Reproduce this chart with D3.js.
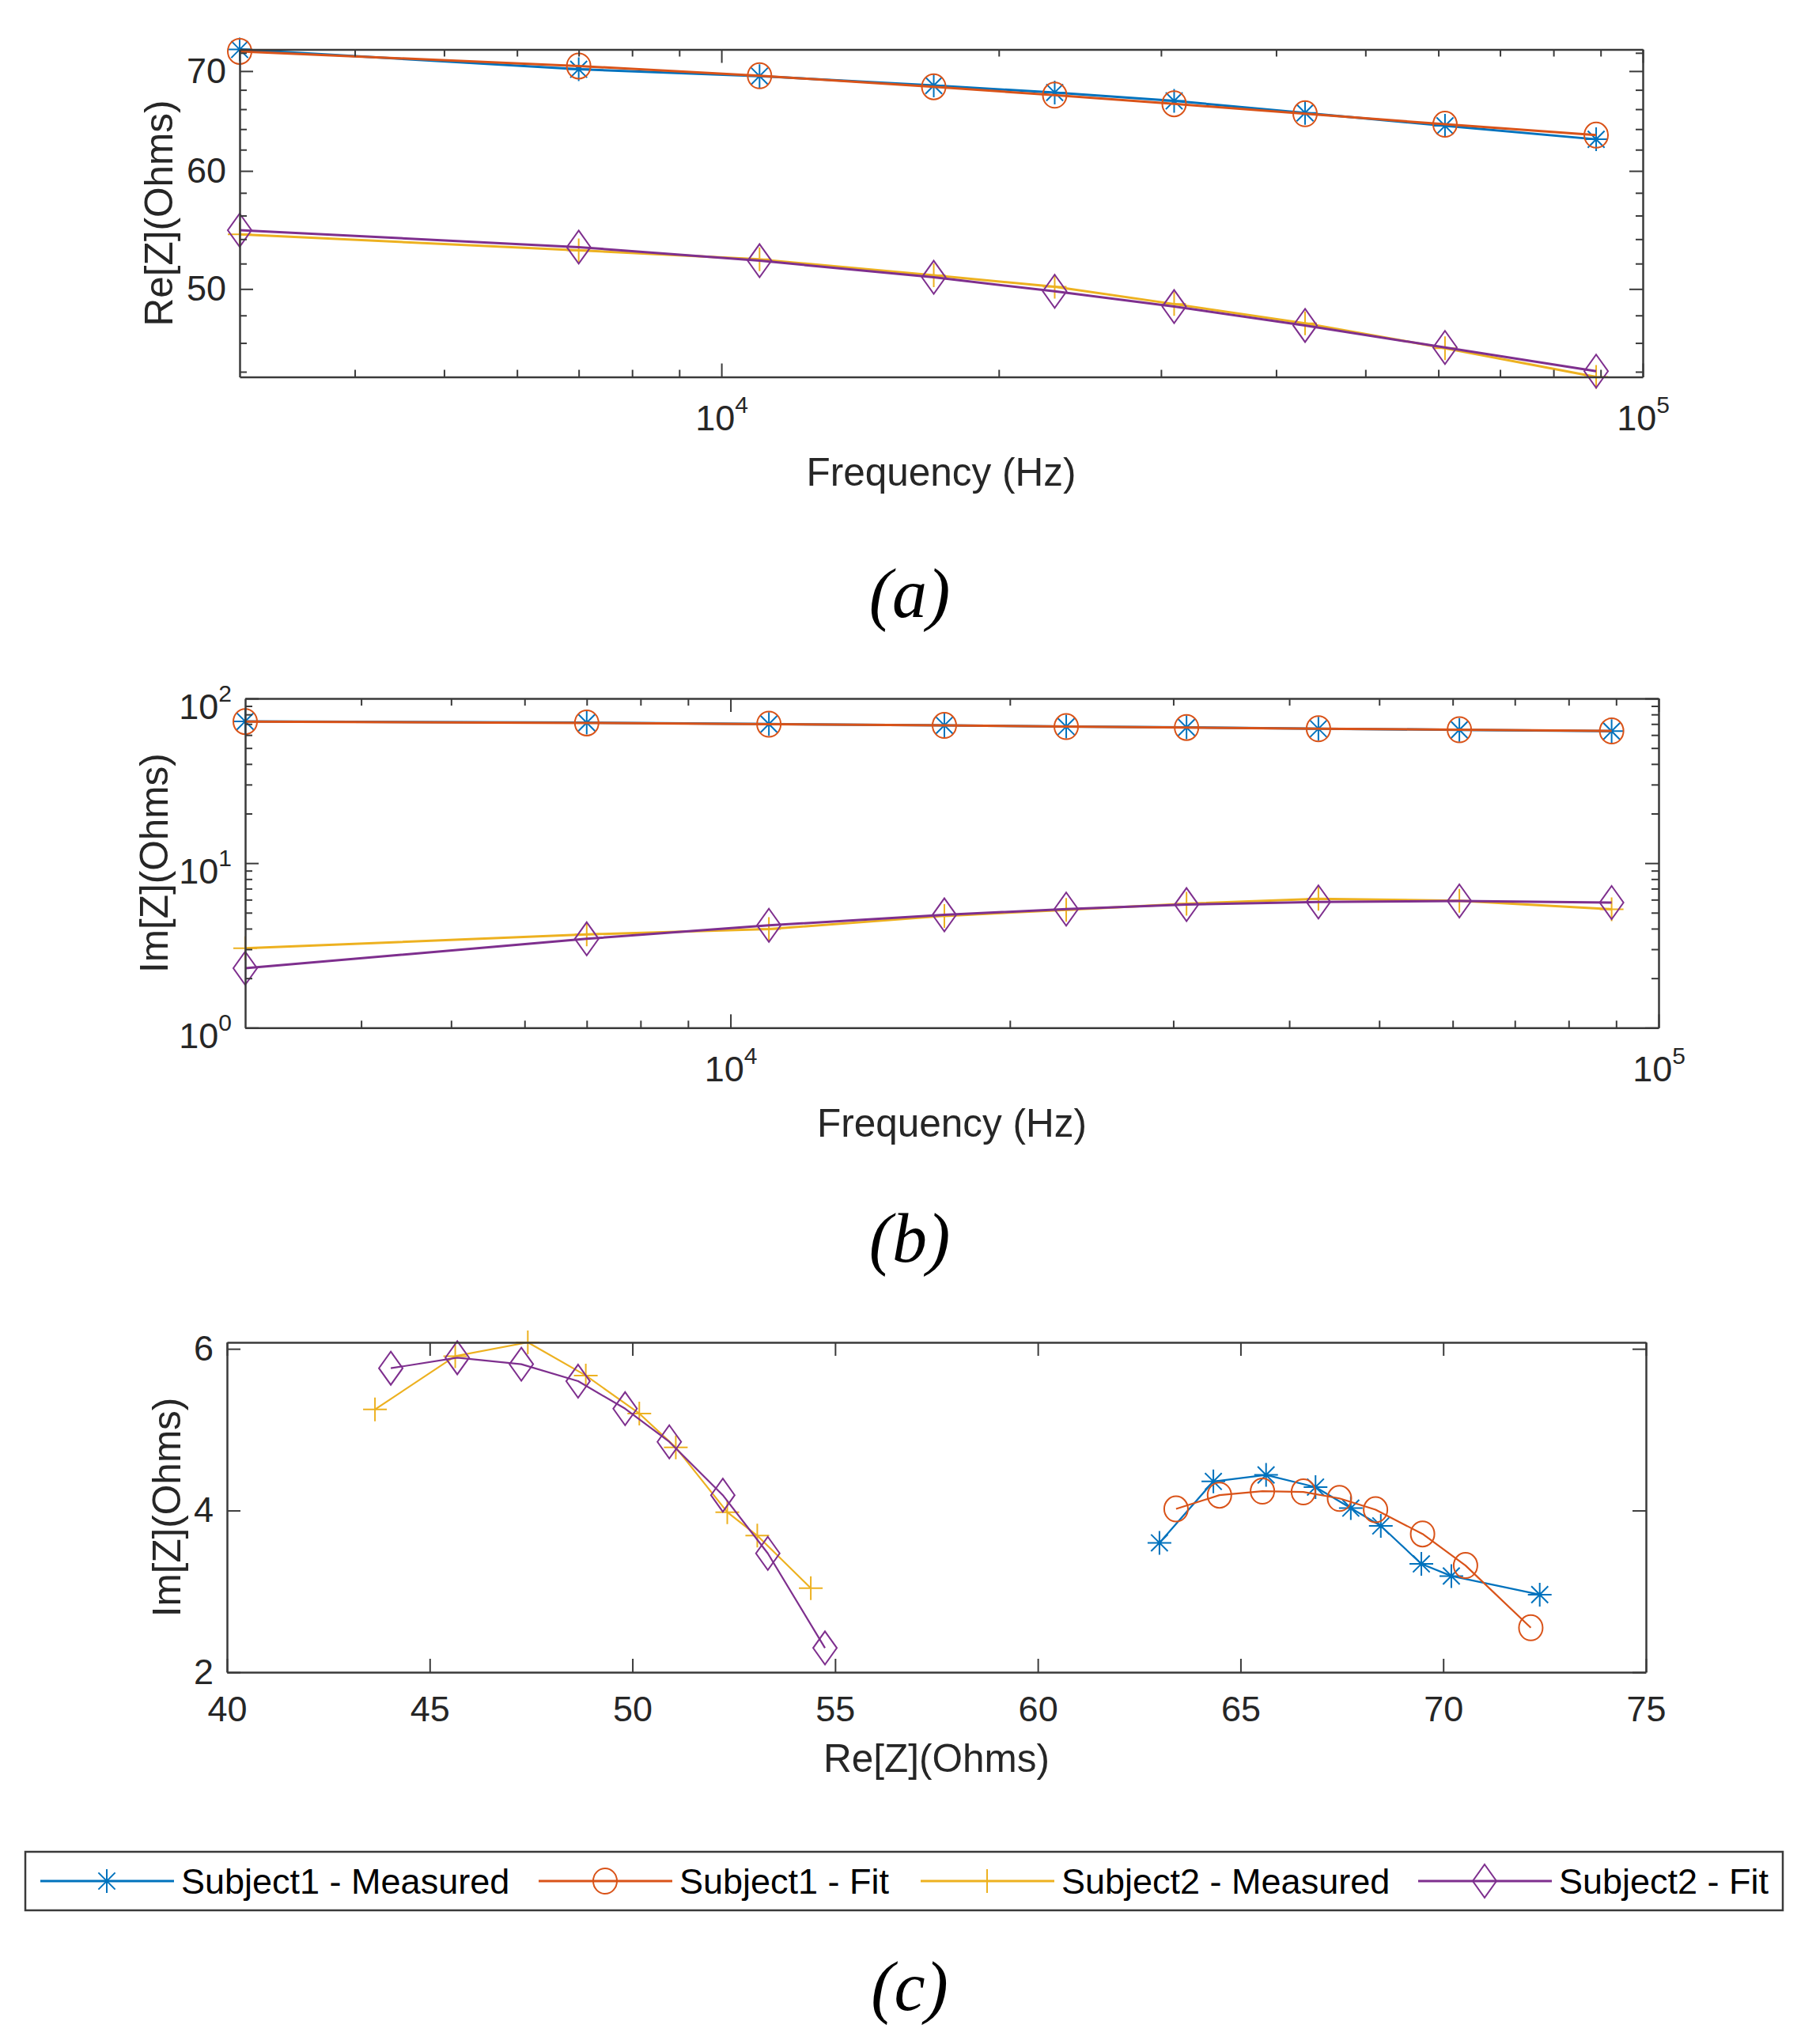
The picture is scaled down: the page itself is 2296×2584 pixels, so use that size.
<!DOCTYPE html>
<html><head><meta charset="utf-8">
<script src="https://cdn.jsdelivr.net/npm/d3@7"></script>
<style>
body{margin:0;background:#fff}
svg{display:block}
</style>
</head><body><svg id="chart" width="2296" height="2584"></svg>
<script>
// ---------------- DATA ----------------
const freqHz = [3000, 7000, 11000, 17000, 23000, 31000, 43000, 61000, 89000];
// Re[Z] (Ohms) per frequency
const s1MeasRe = [72.38, 70.20, 69.46, 68.46, 67.72, 66.85, 65.63, 64.33, 63.00];
const s1FitRe  = [72.16, 70.55, 69.49, 68.33, 67.44, 66.55, 65.54, 64.48, 63.41];
const s2MeasRe = [54.40, 53.08, 52.34, 51.07, 50.17, 48.85, 47.42, 45.63, 43.65];
const s2FitRe  = [54.75, 53.34, 52.23, 50.91, 49.82, 48.66, 47.26, 45.68, 44.04];
// Im[Z] (Ohms) per frequency
const s1MeasIm = [2.96, 3.19, 3.34, 3.81, 4.03, 4.29, 4.44, 4.36, 3.60];
const s1FitIm  = [2.55, 3.32, 3.71, 4.01, 4.15, 4.23, 4.24, 4.19, 4.02];
const s2MeasIm = [3.04, 3.69, 3.98, 4.78, 5.20, 5.67, 6.08, 5.91, 5.25];
const s2FitIm  = [2.30, 3.47, 4.19, 4.85, 5.26, 5.60, 5.81, 5.89, 5.76];
// Subject1 curve as drawn in panel (b)
const s1MeasPanelB = [72.6, 71.3, 69.9, 68.7, 67.5, 66.7, 65.5, 64.5, 63.3];
const s1FitPanelB  = [72.4, 71.0, 69.8, 68.6, 67.5, 66.6, 65.5, 64.6, 63.5];

const seriesNames = ["Subject1 - Measured", "Subject1 - Fit", "Subject2 - Measured", "Subject2 - Fit"];
const subLabels = ["(a)", "(b)", "(c)"];
const axisTitles = {a: ["Frequency (Hz)", "Re[Z](Ohms)"], b: ["Frequency (Hz)", "Im[Z](Ohms)"], c: ["Re[Z](Ohms)", "Im[Z](Ohms)"]};

// tick values
const freqMajorTicks = [1e4, 1e5];
const freqMinorTicks = [4000, 5000, 6000, 7000, 8000, 9000, 20000, 30000, 40000, 50000, 60000, 70000, 80000, 90000];
const reMajorTicksA = [50, 60, 70];
const reMinorTicksA = [44, 46, 48, 52, 54, 56, 58, 62, 64, 66, 68, 72];
const imMajorTicksB = [1, 10, 100];
const imMinorTicksB = [2, 3, 4, 5, 6, 7, 8, 9, 20, 30, 40, 50, 60, 70, 80, 90];
const reTicksC = [40, 45, 50, 55, 60, 65, 70, 75];
const imTicksC = [2, 4, 6];

// ---------------- STYLE ----------------
const colors = ['#0072BD', '#D95319', '#EDB120', '#7E2F8E'];
const markerTypes = ['star', 'circle', 'plus', 'diamond'];
const FONT = '"Liberation Sans", Arial, Helvetica, sans-serif';
const TXT = '#262626';
const AX = '#3a3a3a';
const TICK_FS = 45, LABEL_FS = 49.5, SUP_FS = 30, LEG_FS = 45;

function markerPath(t) {
  const r = 15, a = 10.6;
  switch (t) {
    case 'star': return `M0,${-r}V${r}M${-r},0H${r}M${-a},${-a}L${a},${a}M${-a},${a}L${a},${-a}`;
    case 'circle': return `M-15,0A15,16 0 1,0 15,0A15,16 0 1,0 -15,0Z`;
    case 'plus': return `M0,${-r}V${r}M${-r},0H${r}`;
    case 'diamond': return `M0,-21L15,0L0,21L-15,0Z`;
  }
}

const svg = d3.select('#chart');
svg.append('rect').attr('width', 2296).attr('height', 2584).attr('fill', '#fff');

function supFormat(sel) {
  sel.each(function(d) {
    const t = d3.select(this);
    const e = Math.round(Math.log10(d));
    t.text(null);
    t.append('tspan').text('10');
    t.append('tspan').attr('font-size', SUP_FS).attr('dy', -22).text(e);
  });
}

function styleAxis(g) {
  g.attr('color', AX).attr('font-family', FONT).attr('font-size', TICK_FS);
  g.selectAll('.domain').attr('stroke-width', 2.5);
  g.selectAll('.tick line').attr('stroke-width', 2);
  g.selectAll('.tick text').attr('fill', TXT);
}

function drawPanel(p) {
  const g = svg.append('g');
  const x = p.x, y = p.y;
  const [x0, x1] = x.range(), [y0, y1] = y.range(); // y0 bottom, y1 top
  // series
  p.series.forEach((s, i) => {
    const pts = d3.zip(s[0], s[1]);
    g.append('path').datum(pts)
      .attr('d', d3.line().x(d => x(d[0])).y(d => y(d[1])))
      .attr('fill', 'none').attr('stroke', colors[i]).attr('stroke-width', p.lw)
      .attr('stroke-linejoin', 'round');
    g.selectAll(null).data(pts).join('path')
      .attr('transform', d => `translate(${x(d[0])},${y(d[1])})`)
      .attr('d', markerPath(markerTypes[i]))
      .attr('fill', 'none').attr('stroke', colors[i]).attr('stroke-width', 2);
  });
  const ax = svg.append('g');
  // minor ticks
  if (p.xMinor) {
    ax.append('g').attr('transform', `translate(0,${y0})`)
      .call(d3.axisBottom(x).tickValues(p.xMinor).tickSize(-9).tickFormat(''))
      .call(styleAxis).call(s => s.select('.domain').remove());
    ax.append('g').attr('transform', `translate(0,${y1})`)
      .call(d3.axisTop(x).tickValues(p.xMinor).tickSize(-9).tickFormat(''))
      .call(styleAxis).call(s => s.select('.domain').remove());
  }
  if (p.yMinor) {
    ax.append('g').attr('transform', `translate(${x0},0)`)
      .call(d3.axisLeft(y).tickValues(p.yMinor).tickSize(-9).tickFormat(''))
      .call(styleAxis).call(s => s.select('.domain').remove());
    ax.append('g').attr('transform', `translate(${x1},0)`)
      .call(d3.axisRight(y).tickValues(p.yMinor).tickSize(-9).tickFormat(''))
      .call(styleAxis).call(s => s.select('.domain').remove());
  }
  // major axes
  const bx = ax.append('g').attr('transform', `translate(0,${y0})`)
    .call(d3.axisBottom(x).tickValues(p.xMajor).tickSize(-17).tickSizeOuter(0).tickPadding(p.xPad).tickFormat(p.xSup ? d => d : d3.format('d')))
    .call(styleAxis);
  if (p.xSup) bx.selectAll('.tick text').call(supFormat);
  ax.append('g').attr('transform', `translate(0,${y1})`)
    .call(d3.axisTop(x).tickValues(p.xMajor).tickSize(-17).tickSizeOuter(0).tickFormat(''))
    .call(styleAxis);
  const ly = ax.append('g').attr('transform', `translate(${x0},0)`)
    .call(d3.axisLeft(y).tickValues(p.yMajor).tickSize(-17).tickSizeOuter(0).tickPadding(17).tickFormat(p.ySup ? d => d : d3.format('d')))
    .call(styleAxis);
  if (p.ySup) ly.selectAll('.tick text').attr('dy', '0.56em').call(supFormat);
  ax.append('g').attr('transform', `translate(${x1},0)`)
    .call(d3.axisRight(y).tickValues(p.yMajor).tickSize(-17).tickSizeOuter(0).tickFormat(''))
    .call(styleAxis);
  // axis titles
  svg.append('text').attr('x', (x0 + x1) / 2).attr('y', p.xTitleY)
    .attr('text-anchor', 'middle').attr('font-family', FONT).attr('font-size', LABEL_FS).attr('fill', TXT)
    .text(p.titles[0]);
  svg.append('text').attr('transform', `translate(${p.yTitleX},${(y0 + y1) / 2}) rotate(-90)`)
    .attr('text-anchor', 'middle').attr('dy', '0.36em').attr('font-family', FONT).attr('font-size', LABEL_FS).attr('fill', TXT)
    .text(p.titles[1]);
  // sub-figure label
  svg.append('text').attr('x', 1150).attr('y', p.subY)
    .attr('text-anchor', 'middle').attr('font-family', '"Liberation Serif", "Times New Roman", serif')
    .attr('font-style', 'italic').attr('font-size', 88).attr('fill', '#000')
    .text(p.sub);
}

// ---------- Panel (a): Re[Z] vs frequency ----------
const allReA = [].concat(s1MeasRe, s1FitRe, s2MeasRe, s2FitRe);
drawPanel({
  x: d3.scaleLog().domain([3000, 1e5]).range([303, 2077]),
  y: d3.scaleLog().domain(d3.extent(allReA)).range([476.5, 62.5]),
  series: [[freqHz, s1MeasRe], [freqHz, s1FitRe], [freqHz, s2MeasRe], [freqHz, s2FitRe]],
  lw: 3,
  xMajor: freqMajorTicks, xMinor: freqMinorTicks, xSup: true, xPad: 36,
  yMajor: reMajorTicksA, yMinor: reMinorTicksA, ySup: false,
  titles: axisTitles.a, xTitleY: 614, yTitleX: 200,
  sub: subLabels[0], subY: 780
});

// ---------- Panel (b): Im[Z] vs frequency ----------
drawPanel({
  x: d3.scaleLog().domain([3000, 1e5]).range([310, 2097]),
  y: d3.scaleLog().domain([1, 100]).range([1299.3, 883]),
  series: [[freqHz, s1MeasPanelB], [freqHz, s1FitPanelB], [freqHz, s2MeasIm], [freqHz, s2FitIm]],
  lw: 3,
  xMajor: freqMajorTicks, xMinor: freqMinorTicks, xSup: true, xPad: 36,
  yMajor: imMajorTicksB, yMinor: imMinorTicksB, ySup: true,
  titles: axisTitles.b, xTitleY: 1437, yTitleX: 194,
  sub: subLabels[1], subY: 1595
});

// ---------- Panel (c): Nyquist ----------
const allImC = [].concat(s1MeasIm, s1FitIm, s2MeasIm, s2FitIm);
drawPanel({
  x: d3.scaleLinear().domain([40, 75]).range([287, 2081]),
  y: d3.scaleLinear().domain([2, d3.max(allImC)]).range([2114, 1697]),
  series: [[s1MeasRe, s1MeasIm], [s1FitRe, s1FitIm], [s2MeasRe, s2MeasIm], [s2FitRe, s2FitIm]],
  lw: 2.2,
  xMajor: reTicksC, xMinor: null, xSup: false, xPad: 30,
  yMajor: imTicksC, yMinor: null, ySup: false,
  titles: axisTitles.c, xTitleY: 2240, yTitleX: 210,
  sub: subLabels[2], subY: 2541
});

// ---------- Legend ----------
const leg = svg.append('g');
leg.append('rect').attr('x', 32).attr('y', 2341).attr('width', 2222).attr('height', 74)
  .attr('fill', '#fff').attr('stroke', AX).attr('stroke-width', 2.5);
const legX = [51, 681, 1164, 1793];
seriesNames.forEach((name, i) => {
  const lx = legX[i], cy = 2378;
  leg.append('line').attr('x1', lx).attr('x2', lx + 169).attr('y1', cy).attr('y2', cy)
    .attr('stroke', colors[i]).attr('stroke-width', 3);
  leg.append('path').attr('transform', `translate(${lx + 84},${cy})`).attr('d', markerPath(markerTypes[i]))
    .attr('fill', 'none').attr('stroke', colors[i]).attr('stroke-width', 2);
  leg.append('text').attr('x', lx + 178).attr('y', 2394)
    .attr('font-family', FONT).attr('font-size', LEG_FS).attr('fill', '#000').text(name);
});
</script>
</body></html>
